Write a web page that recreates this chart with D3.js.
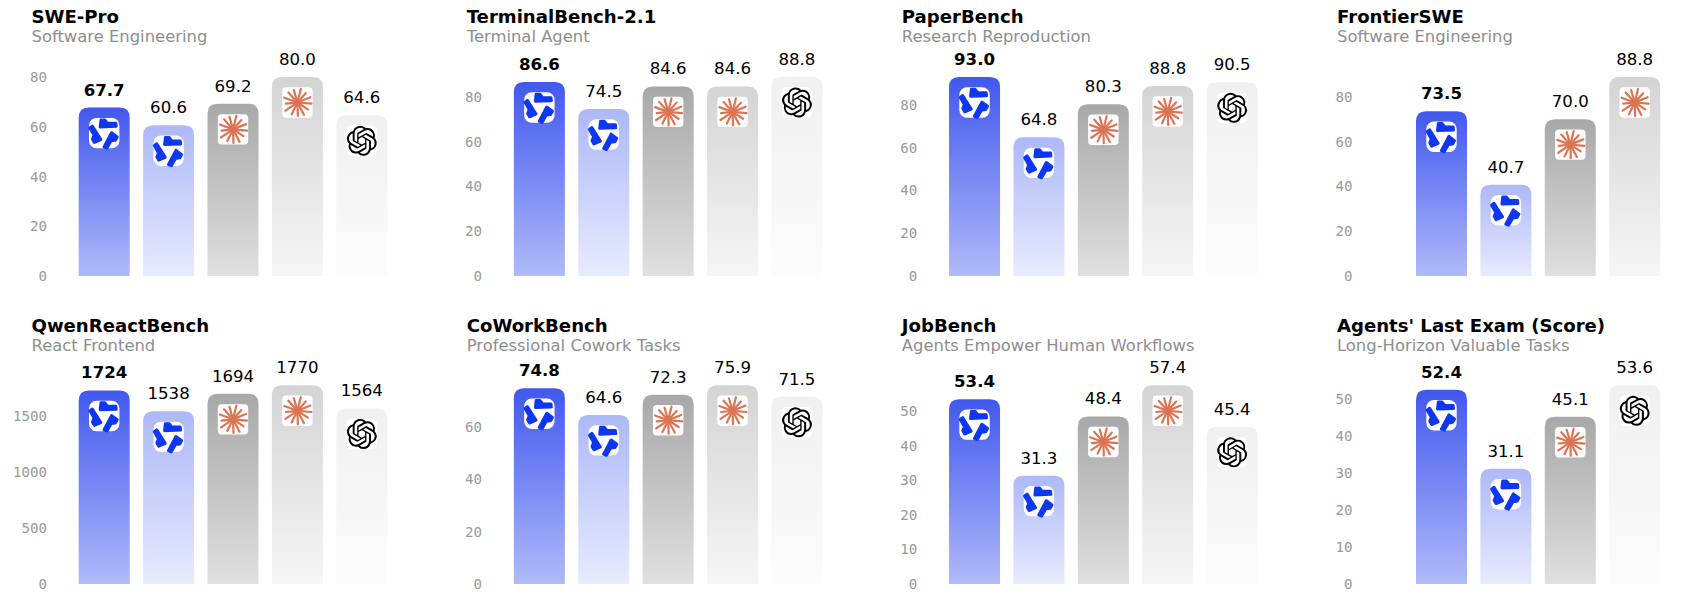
<!DOCTYPE html>
<html>
<head>
<meta charset="utf-8">
<script src="https://cdn.jsdelivr.net/npm/d3@7/dist/d3.min.js"></script>
<style>
html,body{margin:0;padding:0;background:#fff}
svg{display:block}
text{font-family:"DejaVu Sans",sans-serif}
.tick text{font-family:"DejaVu Sans Mono",monospace}
</style>
</head>
<body>
<div id="chart"></div>
<script>
// ---------- data ----------
const titles = ["SWE-Pro","TerminalBench-2.1","PaperBench","FrontierSWE","QwenReactBench","CoWorkBench","JobBench","Agents' Last Exam (Score)"];
const subtitles = ["Software Engineering","Terminal Agent","Research Reproduction","Software Engineering","React Frontend","Professional Cowork Tasks","Agents Empower Human Workflows","Long-Horizon Valuable Tasks"];
const seriesKeys = ["qwenA","qwenB","claudeA","claudeB","openai"];
const sweProValues = [67.7,60.6,69.2,80.0,64.6];
const terminalBenchValues = [86.6,74.5,84.6,84.6,88.8];
const paperBenchValues = [93.0,64.8,80.3,88.8,90.5];
const frontierSweValues = [73.5,40.7,70.0,88.8,null];
const qwenReactValues = [1724,1538,1694,1770,1564];
const coWorkValues = [74.8,64.6,72.3,75.9,71.5];
const jobBenchValues = [53.4,31.3,48.4,57.4,45.4];
const lastExamValues = [52.4,31.1,45.1,null,53.6];
const panelValues = [sweProValues,terminalBenchValues,paperBenchValues,frontierSweValues,qwenReactValues,coWorkValues,jobBenchValues,lastExamValues];
const tick80 = [0,20,40,60,80];
const tick60 = [0,20,40,60];
const tick50 = [0,10,20,30,40,50];
const tick1500 = [0,500,1000,1500];
const panelTicks = [tick80,tick80,tick80,tick80,tick1500,tick60,tick50,tick50];
const topColors = ["#4258ee","#adb8f8","#a8a8a8","#d4d4d4","#f0f0f0"];
const bottomColors = ["#b0baf9","#e8ebfe","#e0e0e0","#f6f6f6","#fcfcfc"];
const iconKinds = ["qwen","qwen","claude","claude","openai"];
const boldSeries = "qwenA";
const claudeRays = [[5,14],[33,12.5],[62,14],[88,13.5],[116,13],[146,14.5],[174,11.5],[200,14],[228,13.5],[254,13],[284,14],[312,12.5],[338,14]];

// ---------- layout ----------
const W=1702,H=600;
const colLeft=d3.scaleLinear().domain([0,3]).range([31.5,1337]);
const rowBase=[276,584], rowTop=[77,385.3];
const openaiPath="M22.2819 9.8211a5.9847 5.9847 0 0 0-.5157-4.9108 6.0462 6.0462 0 0 0-6.5098-2.9A6.0651 6.0651 0 0 0 4.9807 4.1818a5.9847 5.9847 0 0 0-3.9977 2.9 6.0462 6.0462 0 0 0 .7427 7.0966 5.98 5.98 0 0 0 .511 4.9107 6.051 6.051 0 0 0 6.5146 2.9001A5.9847 5.9847 0 0 0 13.2599 24a6.0557 6.0557 0 0 0 5.7718-4.2058 5.9894 5.9894 0 0 0 3.9977-2.9001 6.0557 6.0557 0 0 0-.7475-7.0729zm-9.022 12.6081a4.4755 4.4755 0 0 1-2.8764-1.0408l.1419-.0804 4.7783-2.7582a.7948.7948 0 0 0 .3927-.6813v-6.7369l2.02 1.1686a.071.071 0 0 1 .038.052v5.5826a4.504 4.504 0 0 1-4.4945 4.4944zm-9.6607-4.1254a4.4708 4.4708 0 0 1-.5346-3.0137l.142.0852 4.783 2.7582a.7712.7712 0 0 0 .7806 0l5.8428-3.3685v2.3324a.0804.0804 0 0 1-.0332.0615L9.74 19.9502a4.4992 4.4992 0 0 1-6.1408-1.6464zM2.3408 7.8956a4.485 4.485 0 0 1 2.3655-1.9728V11.6a.7664.7664 0 0 0 .3879.6765l5.8144 3.3543-2.0201 1.1685a.0757.0757 0 0 1-.071 0l-4.8303-2.7865A4.504 4.504 0 0 1 2.3408 7.872zm16.5963 3.8558L13.1038 8.364 15.1192 7.2a.0757.0757 0 0 1 .071 0l4.8303 2.7913a4.4944 4.4944 0 0 1-.6765 8.1042v-5.6772a.79.79 0 0 0-.407-.667zm2.0107-3.0231l-.142-.0852-4.7735-2.7818a.7759.7759 0 0 0-.7854 0L9.409 9.2297V6.8974a.0662.0662 0 0 1 .0284-.0615l4.8303-2.7866a4.4992 4.4992 0 0 1 6.6802 4.66zM8.3065 12.863l-2.02-1.1638a.0804.0804 0 0 1-.038-.0567V6.0742a4.4992 4.4992 0 0 1 7.3757-3.4537l-.142.0805L8.704 5.459a.7948.7948 0 0 0-.3927.6813zm1.0976-2.3654l2.602-1.4998 2.6069 1.4998v2.9994l-2.5974 1.4997-2.6067-1.4997Z";

const svg=d3.select("#chart").append("svg").attr("width",W).attr("height",H).attr("viewBox",`0 0 ${W} ${H}`);
svg.append("rect").attr("width",W).attr("height",H).attr("fill","#fff");
const defs=svg.append("defs");

seriesKeys.forEach((k,i)=>{
  const g=defs.append("linearGradient").attr("id","grad-"+k).attr("x1",0).attr("y1",0).attr("x2",0).attr("y2",1);
  g.append("stop").attr("offset","0%").attr("stop-color",topColors[i]);
  g.append("stop").attr("offset","100%").attr("stop-color",bottomColors[i]);
});

// icon glyphs, centred on 0,0
const qwen=defs.append("g").attr("id","icon-qwen");
qwen.append("rect").attr("x",-15.2).attr("y",-15.2).attr("width",30.4).attr("height",30.4).attr("rx",7.5).attr("fill","#fff");
[0,120,240].forEach(a=>{
  qwen.append("path").attr("d","M-3.2,-13.2 L0.6,-13.2 L3.2,-9.8 L11.6,-9.8 L12,-6.8 L-4,-6.2 Z").attr("transform",`rotate(${a})`)
    .attr("fill","#0f37f0").attr("stroke","#0f37f0").attr("stroke-width",3).attr("stroke-linejoin","round");
});
const claude=defs.append("g").attr("id","icon-claude");
claude.append("rect").attr("x",-15.2).attr("y",-15.2).attr("width",30.4).attr("height",30.4).attr("rx",4).attr("fill","#fff");
claudeRays.forEach(([a,l])=>{
  claude.append("line").attr("x1",0).attr("y1",0).attr("x2",l).attr("y2",0).attr("transform",`rotate(${a})`)
    .attr("stroke","#dc7453").attr("stroke-width",2.2).attr("stroke-linecap","round");
});
const oa=defs.append("g").attr("id","icon-openai");
oa.append("rect").attr("x",-15.2).attr("y",-15.2).attr("width",30.4).attr("height",30.4).attr("rx",5).attr("fill","#fff");
oa.append("path").attr("d",openaiPath).attr("transform","scale(1.25) translate(-12,-12)").attr("fill","#000");

const topRound=(x,y,w,b,r)=>{
  const rr=Math.min(r,b-y);
  return `M${x},${b}V${y+rr}Q${x},${y} ${x+rr},${y}H${x+w-rr}Q${x+w},${y} ${x+w},${y+rr}V${b}Z`;
};

titles.forEach((title,p)=>{
  const col=p%4,row=Math.floor(p/4);
  const left=colLeft(col);
  const g=svg.append("g").attr("transform",`translate(${left},0)`);
  const values=panelValues[p];
  const rows=seriesKeys.map((k,i)=>({k,i,v:values[i]})).filter(d=>d.v!==null);
  const yMax=d3.max(rows,d=>d.v);
  const y=d3.scaleLinear().domain([0,yMax]).range([rowBase[row],rowTop[row]]);
  const n=rows.length;
  const start=n===5?40.5:72.3;
  const x=d3.scaleBand().domain(rows.map(d=>d.k)).range([start,start+n*64.4]).paddingInner(0.208).paddingOuter(0.104);
  const fmt=yMax>1000?d3.format("d"):d3.format(".1f");

  g.append("text").attr("x",0).attr("y",row?332:23).attr("font-size",18.1).attr("font-weight",700).attr("fill","#000").text(title);
  g.append("text").attr("x",0).attr("y",row?350.5:41.5).attr("font-size",16.4).attr("fill","#8e8e8e").text(subtitles[p]);

  const axis=g.append("g").attr("transform","translate(15.4,0)")
    .call(d3.axisLeft(y).tickValues(panelTicks[p]).tickSize(0).tickPadding(0).tickFormat(d3.format("d")));
  axis.select(".domain").remove();
  axis.selectAll("text").attr("font-size",14.1).attr("fill","#999");

  const bars=g.selectAll(".bar").data(rows).join("g").attr("class","bar");
  bars.append("path")
    .attr("d",d=>topRound(x(d.k),y(d.v),x.bandwidth(),y(0),10))
    .attr("fill",d=>`url(#grad-${d.k})`);
  bars.append("use")
    .attr("href",d=>"#icon-"+iconKinds[d.i])
    .attr("transform",d=>`translate(${x(d.k)+x.bandwidth()/2},${y(d.v)+25.5})`);
  bars.append("text")
    .attr("x",d=>x(d.k)+x.bandwidth()/2)
    .attr("y",d=>y(d.v)-12)
    .attr("text-anchor","middle")
    .attr("font-size",16.6)
    .attr("font-weight",d=>d.k===boldSeries?700:400)
    .attr("fill","#000")
    .text(d=>fmt(d.v));
});
</script>
</body>
</html>
